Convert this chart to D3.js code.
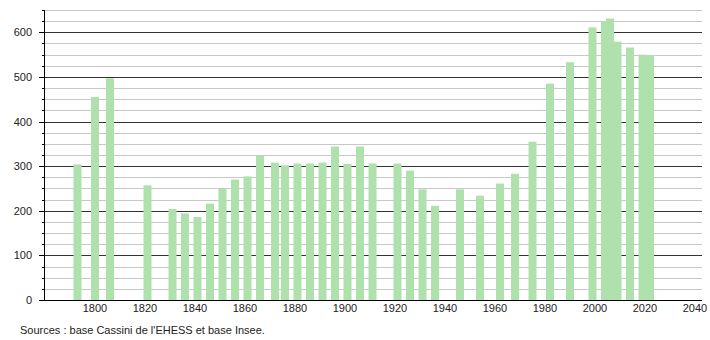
<!DOCTYPE html>
<html>
<head>
<meta charset="utf-8">
<script src="https://cdn.jsdelivr.net/npm/d3@7"></script>
<style>
  body { margin: 0; background: #fff; }
  text { font-family: "Liberation Sans", Arial, sans-serif; }
</style>
</head>
<body>
<script>
// census years and population
var years = [1793, 1800, 1806, 1821, 1831, 1836, 1841, 1846, 1851, 1856,
             1861, 1866, 1872, 1876, 1881, 1886, 1891, 1896, 1901, 1906,
             1911, 1921, 1926, 1931, 1936, 1946, 1954, 1962, 1968, 1975,
             1982, 1990, 1999, 2004, 2006, 2009, 2014, 2019, 2021, 2022];
var population = [304, 455, 497, 257, 204, 194, 186, 216, 249, 270,
                  277, 324, 308, 302, 306, 306, 308, 344, 305, 344,
                  306, 306, 290, 248, 211, 248, 234, 261, 283, 355,
                  485, 533, 611, 624, 631, 579, 566, 550, 549, 549];
var xTicks = [1800, 1820, 1840, 1860, 1880, 1900, 1920, 1940, 1960, 1980, 2000, 2020, 2040];
var yTicks = [0, 100, 200, 300, 400, 500, 600];
var source = "Sources : base Cassini de l'EHESS et base Insee.";

var width = 710, height = 340;
var plotLeft = 44, plotRight = 702, plotTop = 10, plotBottom = 300;

var svg = d3.select('body')
    .append('svg')
    .attr("width", width)
    .attr("height", height);

var x = d3.scaleLinear().domain([1780, 2040]).range([45, 695]);
var y = d3.scaleLinear().domain([0, 650]).range([plotBottom, plotTop]);

//gridlines, minor every 25, major every 100
var grid = d3.range(25, 651, 25);
svg.selectAll(".grid")
    .data(grid)
    .enter()
    .append("line")
    .attr("x1", plotLeft)
    .attr("x2", plotRight)
    .attr("y1", function (d) { return Math.round(y(d)) + 0.5; })
    .attr("y2", function (d) { return Math.round(y(d)) + 0.5; })
    .style("stroke", function (d) { return d % 100 == 0 ? "#333" : "#c8c8c8"; })
    .style("stroke-width", 1);

//bars
var data = years.map(function (yr, i) { return {year: yr, value: population[i]}; });
svg.selectAll(".bar")
    .data(data)
    .enter()
    .append("rect")
    .attr("x", function (d) { return x(d.year) - 4; })
    .attr("y", function (d) { return y(d.value); })
    .attr("width", 8)
    .attr("height", function (d) { return y(0) - y(d.value); })
    .style("fill", "#aee1ac");

//y axis with major and minor ticks
svg.append("line")
    .attr("x1", plotLeft + 0.5).attr("x2", plotLeft + 0.5)
    .attr("y1", plotTop).attr("y2", plotBottom)
    .style("stroke", "#000");

svg.selectAll(".ytick")
    .data(d3.range(0, 651, 25))
    .enter()
    .append("line")
    .attr("x1", function (d) { return d % 100 == 0 ? plotLeft - 5 : plotLeft - 2; })
    .attr("x2", plotLeft)
    .attr("y1", function (d) { return Math.round(y(d)) + 0.5; })
    .attr("y2", function (d) { return Math.round(y(d)) + 0.5; })
    .style("stroke", "#000");

svg.selectAll(".ylabel")
    .data(yTicks)
    .enter()
    .append("text")
    .attr("x", 32)
    .attr("y", function (d) { return y(d) + 4; })
    .attr("text-anchor", "end")
    .style("font-size", "11px")
    .style("fill", "#222")
    .text(function (d) { return d; });

//x axis
svg.append("line")
    .attr("x1", plotLeft).attr("x2", plotRight)
    .attr("y1", plotBottom + 0.5).attr("y2", plotBottom + 0.5)
    .style("stroke", "#000");

svg.selectAll(".xlabel")
    .data(xTicks)
    .enter()
    .append("text")
    .attr("x", function (d) { return x(d); })
    .attr("y", 312)
    .attr("text-anchor", "middle")
    .style("font-size", "11px")
    .style("fill", "#222")
    .text(function (d) { return d; });

svg.append("text")
    .attr("x", 20)
    .attr("y", 334)
    .style("font-size", "11px")
    .style("fill", "#222")
    .text(source);
</script>
</body>
</html>
